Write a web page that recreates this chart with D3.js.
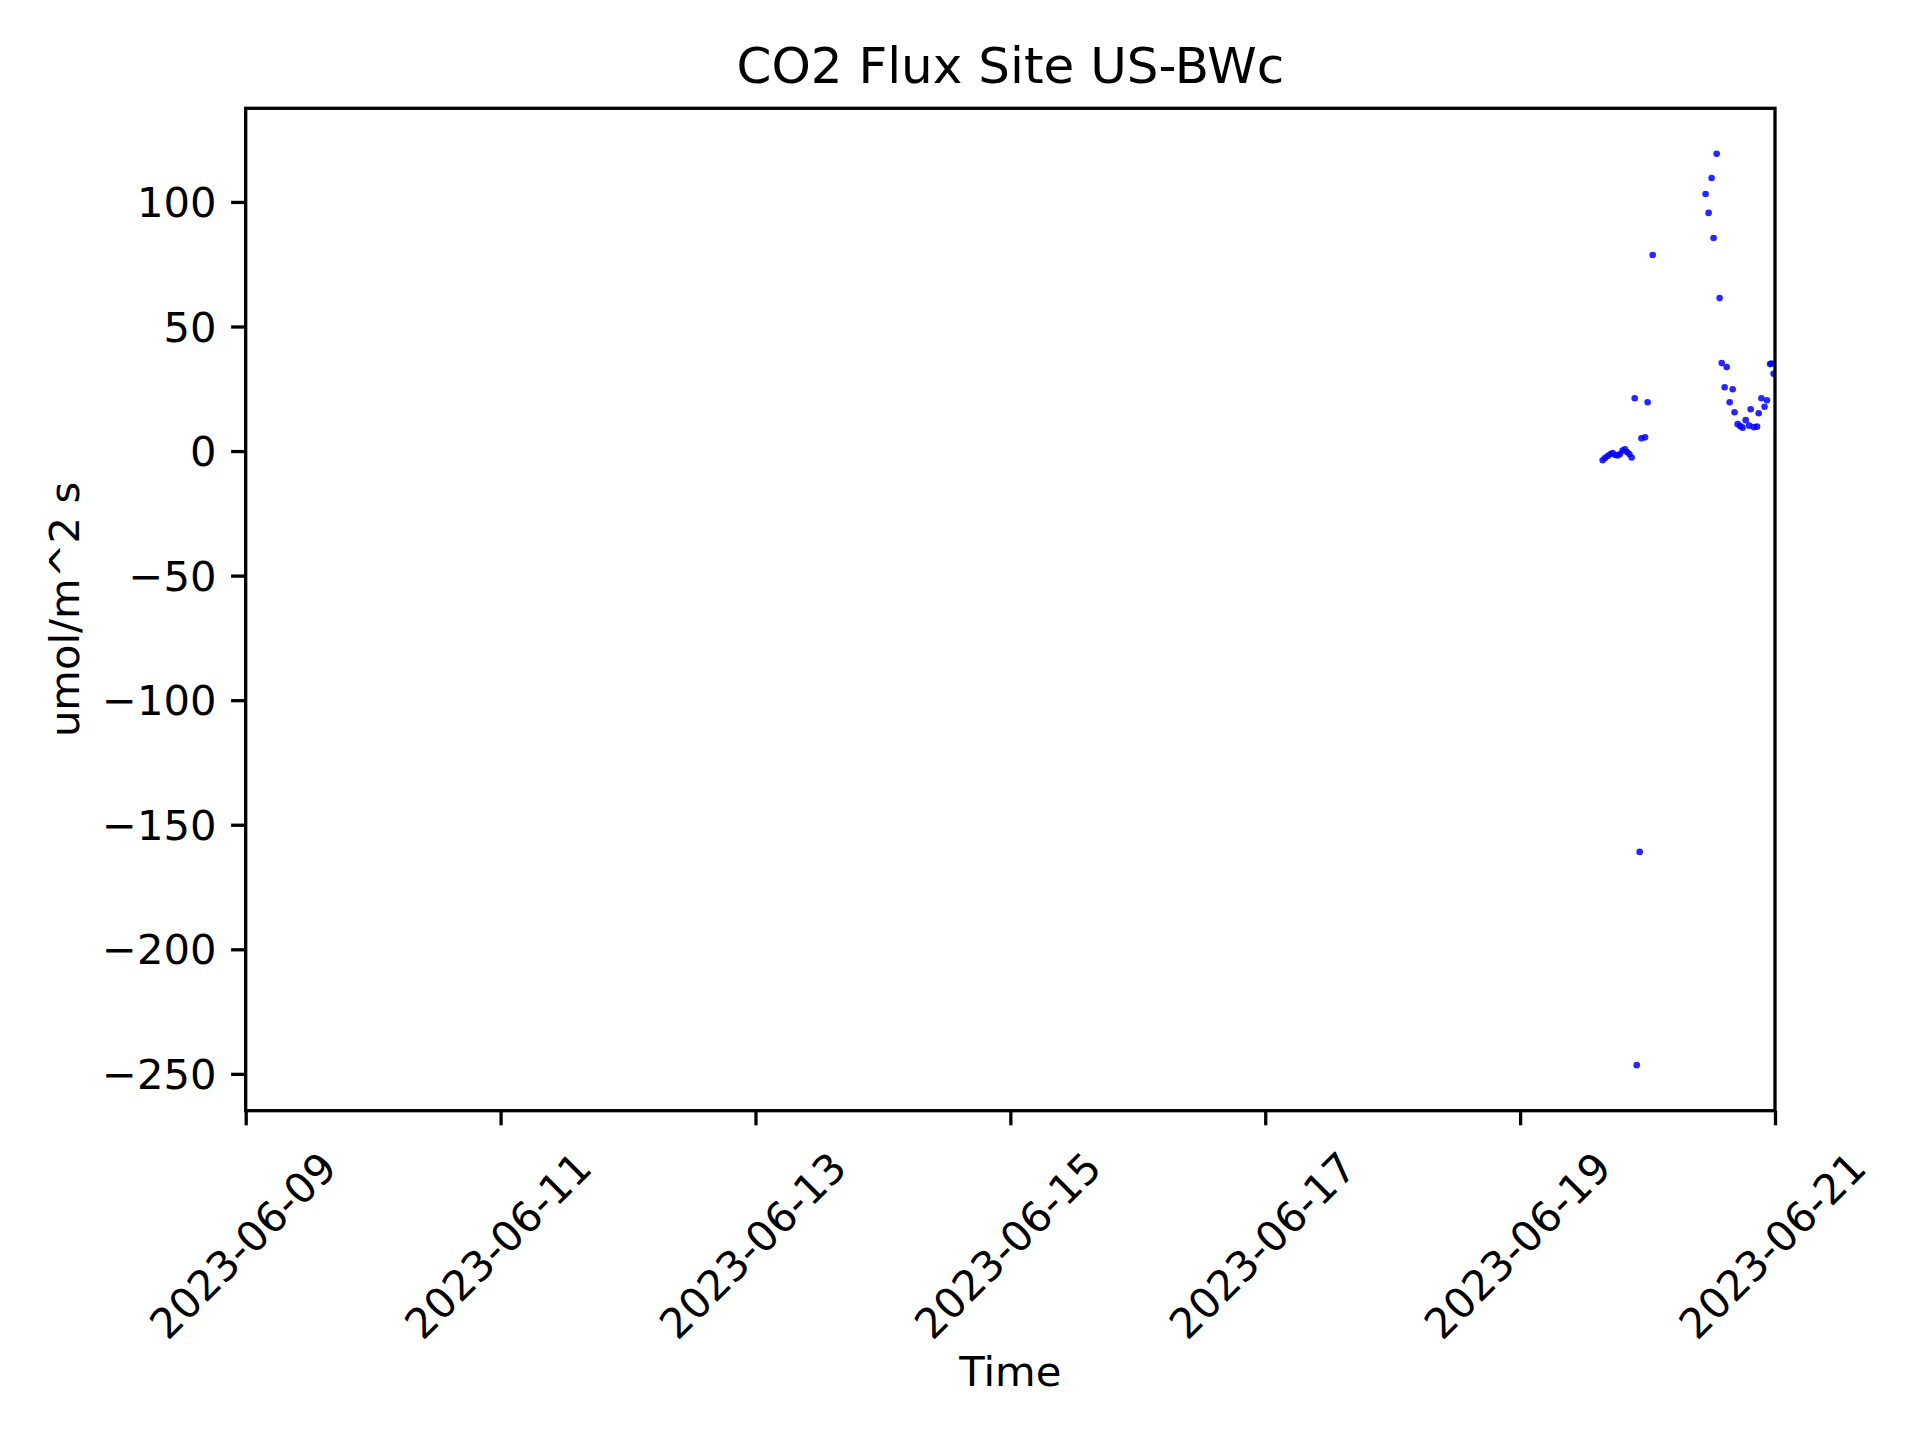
<!DOCTYPE html>
<html>
<head>
<meta charset="utf-8">
<script src="https://cdn.jsdelivr.net/npm/d3@7"></script>
<style>
  html, body { margin: 0; padding: 0; background: #ffffff; }
  svg { display: block; }
  text { font-family: "DejaVu Sans", sans-serif; fill: #000; }
</style>
</head>
<body>
<svg id="chart" width="1920" height="1440"></svg>
<script>
// ---- Data ----
const title = "CO2 Flux Site US-BWc";
const xLabel = "Time";
const yLabel = "umol/m^2 s";

const times = [
  "2023-06-19T15:33", "2023-06-19T15:59", "2023-06-19T16:29", "2023-06-19T16:59",
  "2023-06-19T17:25", "2023-06-19T17:56", "2023-06-19T18:22", "2023-06-19T18:49",
  "2023-06-19T19:18", "2023-06-19T19:45", "2023-06-19T20:08", "2023-06-19T20:34",
  "2023-06-19T21:00", "2023-06-19T21:35", "2023-06-19T21:58", "2023-06-19T22:31",
  "2023-06-19T22:51", "2023-06-19T23:32", "2023-06-20T00:01", "2023-06-20T00:58",
  "2023-06-20T10:56", "2023-06-20T11:30", "2023-06-20T12:04", "2023-06-20T12:26",
  "2023-06-20T13:01", "2023-06-20T13:34", "2023-06-20T13:58", "2023-06-20T14:31",
  "2023-06-20T14:54", "2023-06-20T15:28", "2023-06-20T16:02", "2023-06-20T16:23",
  "2023-06-20T16:58", "2023-06-20T17:28", "2023-06-20T17:54", "2023-06-20T18:29",
  "2023-06-20T19:09", "2023-06-20T19:25", "2023-06-20T20:02", "2023-06-20T20:37",
  "2023-06-20T20:56", "2023-06-20T21:26", "2023-06-20T22:02", "2023-06-20T22:29",
  "2023-06-20T23:04", "2023-06-20T23:21", "2023-06-20T23:44"
];
const flux = [
  -3.7, -2.8, -2.0, -1.3,
  -0.8, -1.6, -1.8, -1.2,
  0.2, 0.7, -0.4, -1.2,
  -2.6, 21.2, -246.5, -160.9,
  5.1, 5.5, 19.6, 78.7,
  103.2, 95.6, 109.6, 85.5,
  119.3, 61.4, 35.3, 25.6,
  33.7, 19.6, 24.8, 15.6,
  10.8, 10.0, 9.4, 12.4,
  10.2, 16.8, 9.6, 9.8,
  15.2, 21.2, 17.8, 20.4,
  34.9, 35.1, 31.0
];
const xDomain = ["2023-06-09T00:00", "2023-06-21T00:00"];
const xTickLabels = ["2023-06-09", "2023-06-11", "2023-06-13", "2023-06-15", "2023-06-17", "2023-06-19", "2023-06-21"];
const yTicks = [-250, -200, -150, -100, -50, 0, 50, 100];

// ---- Layout ----
const W = 1920, H = 1440;
const plot = { left: 245.7, right: 1775, top: 108.3, bottom: 1110.7 };
const fontTick = 41.7, fontTitle = 50;
const lw = 3.3, tickLen = 14.6, tickPad = 14.6;

const parse = d3.isoParse;
const data = times.map((t, i) => ({ t: parse(t), v: flux[i] }));

const x = d3.scaleTime()
  .domain(xDomain.map(parse))
  .range([plot.left, plot.right]);

const [vmin, vmax] = d3.extent(flux);
const margin = (vmax - vmin) * 0.05;
const y = d3.scaleLinear()
  .domain([vmin - margin, vmax + margin])
  .range([plot.bottom, plot.top]);

const svg = d3.select("#chart");
svg.append("rect").attr("width", W).attr("height", H).attr("fill", "#fff");

svg.append("defs").append("clipPath").attr("id", "clip")
  .append("rect")
  .attr("x", plot.left).attr("y", plot.top)
  .attr("width", plot.right - plot.left).attr("height", plot.bottom - plot.top);

// points
svg.append("g").attr("clip-path", "url(#clip)")
  .selectAll("circle").data(data).enter().append("circle")
  .attr("cx", d => x(d.t))
  .attr("cy", d => y(d.v))
  .attr("r", 3.3)
  .attr("fill", "#0000ff")
  .attr("fill-opacity", 0.85);

// y axis
const yAxis = d3.axisLeft(y)
  .tickValues(yTicks)
  .tickSize(tickLen)
  .tickSizeOuter(0)
  .tickPadding(tickPad)
  .tickFormat(d => (d < 0 ? "\u2212" + Math.abs(d) : String(d)));
const gy = svg.append("g").attr("transform", `translate(${plot.left},0)`).call(yAxis);
gy.select(".domain").remove();
gy.selectAll(".tick line").attr("stroke", "#000").attr("stroke-width", lw);
gy.selectAll(".tick text")
  .attr("font-size", fontTick)
  .attr("font-family", "DejaVu Sans")
  .attr("dy", "0.35em")
  .attr("fill", "#000");

// x axis
const xTickDates = xTickLabels.map(s => parse(s + "T00:00"));
const xAxis = d3.axisBottom(x)
  .tickValues(xTickDates)
  .tickSize(tickLen)
  .tickSizeOuter(0)
  .tickFormat((d, i) => xTickLabels[i]);
const gx = svg.append("g").attr("transform", `translate(0,${plot.bottom})`).call(xAxis);
gx.select(".domain").remove();
gx.selectAll(".tick line").attr("stroke", "#000").attr("stroke-width", lw);
gx.selectAll(".tick text")
  .attr("font-size", fontTick)
  .attr("font-family", "DejaVu Sans")
  .attr("text-anchor", "middle")
  .attr("dominant-baseline", "central")
  .attr("y", 0).attr("dy", 0)
  .attr("transform", "translate(-3,135) rotate(-45)")
  .attr("fill", "#000");

// frame
svg.append("rect")
  .attr("x", plot.left).attr("y", plot.top)
  .attr("width", plot.right - plot.left).attr("height", plot.bottom - plot.top)
  .attr("fill", "none").attr("stroke", "#000").attr("stroke-width", lw);

// title and labels
const cx = (plot.left + plot.right) / 2;
svg.append("text").attr("x", cx).attr("y", plot.top - 25)
  .attr("text-anchor", "middle").attr("font-size", fontTitle).text(title);
svg.append("text").attr("x", cx).attr("y", 1371)
  .attr("text-anchor", "middle").attr("dominant-baseline", "central")
  .attr("font-size", fontTick).text(xLabel);
svg.append("text")
  .attr("transform", `translate(64,${(plot.top + plot.bottom) / 2}) rotate(-90)`)
  .attr("text-anchor", "middle").attr("dominant-baseline", "central")
  .attr("font-size", fontTick).text(yLabel);
</script>
</body>
</html>
